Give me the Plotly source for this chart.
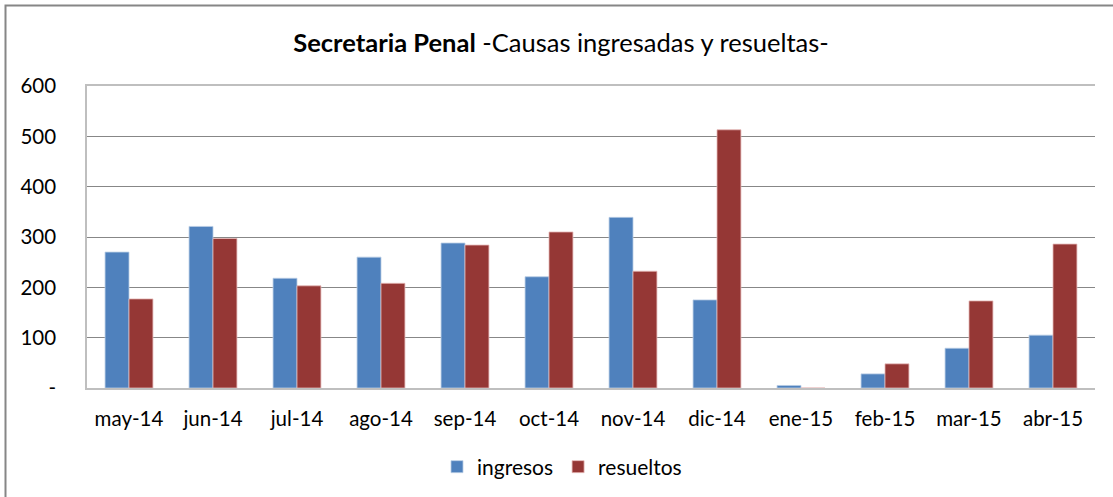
import plotly.graph_objects as go

categories = ["may-14", "jun-14", "jul-14", "ago-14", "sep-14", "oct-14",
              "nov-14", "dic-14", "ene-15", "feb-15", "mar-15", "abr-15"]
ingresos = [270, 321, 218, 260, 288, 221, 339, 175, 5, 28, 79, 105]
resueltos = [177, 297, 203, 208, 284, 310, 232, 513, 0, 48, 173, 286]
tick_vals = [0, 100, 200, 300, 400, 500, 600]
tick_text = ["-", "100", "200", "300", "400", "500", "600"]

W, H = 1113, 497
L, R, T, B = 87, 18, 86, 109
pw, ph = W - L - R, H - T - B

def px_x(p):
    return (p - L) / pw

def px_y(p):
    return 1 - (p - T) / ph

FONT = "Lato"

fig = go.Figure()
fig.add_trace(go.Bar(x=categories, y=ingresos, name="ingresos",
                     marker=dict(color="#4F81BD", line=dict(color="#B9CDE5", width=0.8))))
fig.add_trace(go.Bar(x=categories, y=resueltos, name="resueltos",
                     marker=dict(color="#953735", line=dict(color="#E6B9B8", width=0.8))))

fig.update_layout(
    width=W, height=H,
    margin=dict(l=L, r=R, t=T, b=B, autoexpand=False),
    paper_bgcolor="white", plot_bgcolor="white",
    barmode="group", bargap=0.43, bargroupgap=0,
    font=dict(family=FONT, size=20, color="#000000"),
    title=dict(text="<b>Secretaria Penal</b> -Causas ingresadas y resueltas-",
               x=561 / W, xanchor="center", xref="container",
               y=1 - 43 / H, yanchor="middle", yref="container",
               font=dict(family=FONT, size=25.5, color="#000000")),
    showlegend=True,
    legend=dict(orientation="h", x=px_x(562), xanchor="center",
                y=px_y(467), yanchor="middle", itemwidth=30,
                font=dict(family=FONT, size=21), traceorder="normal"),
    xaxis=dict(showgrid=False, showline=True, linecolor="#BFBFBF", linewidth=1.5,
               mirror=True,
               ticks="", tickfont=dict(family=FONT, size=20.5), ticklabelstandoff=12),
    yaxis=dict(range=[0, 600], tickvals=tick_vals, ticktext=tick_text,
               showgrid=True, gridcolor="#878787", gridwidth=1,
               showline=True, linecolor="#BFBFBF", linewidth=1.5,
               ticks="", tickfont=dict(family=FONT, size=20.5), zeroline=False,
               ticklabelstandoff=25),
)

fig.add_shape(type="rect", xref="paper", yref="paper",
              x0=px_x(5.5), x1=px_x(1130), y0=px_y(510), y1=px_y(5.5),
              line=dict(color="#868686", width=2), layer="below")

fig.write_html("out.html", config={"displayModeBar": False},
               post_script="document.body.style.margin='0';")
